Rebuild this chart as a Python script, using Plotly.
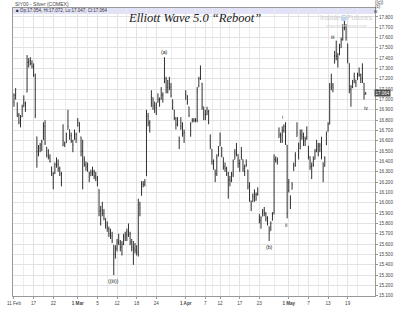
import plotly.graph_objects as go

# ---------------- data (8-hour bars, 3 per trading session) ----------------
opens = [
    16.97, 17.04, 16.97, 16.85, 16.78, 16.83, 16.93, 16.96, 17.07, 17.36,
    17.37, 17.35, 17.32, 17.24, 16.64, 16.50, 16.53, 16.56, 16.61, 16.74,
    16.54, 16.46, 16.44, 16.35, 16.28, 16.28, 16.37, 16.37, 16.33, 16.28,
    16.55, 16.59, 16.58, 16.71, 16.71, 16.65, 16.60, 16.61, 16.62, 16.74,
    16.78, 16.64, 16.50, 16.42, 16.37, 16.35, 16.30, 16.26, 16.29, 16.30,
    16.26, 16.24, 16.13, 15.92, 15.93, 15.90, 15.85, 15.78, 15.75, 15.70,
    15.68, 15.59, 15.50, 15.56, 15.62, 15.61, 15.57, 15.60, 15.67, 15.69,
    15.72, 15.70, 15.62, 15.57, 15.55, 15.54, 15.52, 15.98, 16.07, 16.18,
    16.18, 16.26, 16.84, 16.77, 16.93, 17.02, 16.94, 16.92, 16.97, 17.00,
    17.00, 17.04, 17.16, 17.20, 17.12, 17.15, 17.12, 17.00, 16.90, 16.82,
    16.76, 16.64, 16.71, 16.74, 16.67, 17.00, 17.04, 16.93, 16.70, 16.78,
    16.80, 16.80, 16.80, 17.12, 17.20, 17.16, 16.93, 16.86, 16.85, 16.88,
    16.66, 16.52, 16.40, 16.32, 16.28, 16.45, 16.55, 16.54, 16.44, 16.35,
    16.33, 16.28, 16.22, 16.22, 16.27, 16.42, 16.48, 16.47, 16.38, 16.42,
    16.42, 16.30, 16.35, 16.32, 16.16, 16.02, 16.01, 16.06, 16.08, 16.08,
    15.89, 15.83, 15.87, 15.92, 15.90, 15.85, 15.77, 15.73, 15.83, 15.89,
    16.42, 16.41, 16.63, 16.66, 16.65, 16.70, 16.74, 16.56, 16.20, 16.07,
    16.13, 16.31, 16.36, 16.64, 16.58, 16.52, 16.66, 16.64, 16.60, 16.62,
    16.55, 16.45, 16.35, 16.36, 16.42, 16.50, 16.52, 16.55, 16.56, 16.39,
    16.35, 16.56, 16.69, 16.76, 17.12, 17.14, 17.35, 17.42, 17.42, 17.43,
    17.50, 17.58, 17.70, 17.70, 17.54, 17.35, 17.10, 17.12, 17.16, 17.19,
    17.19, 17.24, 17.24, 17.20, 17.16, 17.054,
]
highs = [
    17.06, 17.11, 16.97, 16.87, 16.85, 16.95, 17.04, 16.98, 17.43, 17.40,
    17.41, 17.38, 17.35, 17.25, 16.64, 16.56, 16.58, 16.61, 16.78, 16.80,
    16.54, 16.52, 16.47, 16.35, 16.30, 16.39, 16.44, 16.42, 16.35, 16.30,
    16.76, 16.59, 16.68, 16.90, 16.71, 16.68, 16.61, 16.71, 16.68, 16.82,
    16.78, 16.64, 16.61, 16.45, 16.40, 16.39, 16.30, 16.32, 16.35, 16.32,
    16.30, 16.26, 16.13, 15.97, 16.01, 15.94, 15.85, 15.82, 15.77, 15.75,
    15.72, 15.59, 15.59, 15.65, 15.70, 15.64, 15.63, 15.70, 15.72, 15.75,
    15.80, 15.72, 15.65, 15.63, 15.61, 15.59, 16.04, 16.01, 16.21, 16.21,
    16.23, 16.90, 16.87, 16.80, 17.09, 17.02, 16.98, 16.97, 17.06, 17.02,
    17.12, 17.07, 17.41, 17.22, 17.19, 17.22, 17.16, 17.00, 16.90, 16.83,
    16.83, 16.64, 16.83, 16.78, 16.71, 17.09, 17.04, 16.93, 16.78, 16.82,
    16.82, 16.82, 17.12, 17.22, 17.33, 17.16, 16.93, 16.90, 16.93, 16.90,
    16.66, 16.52, 16.42, 16.32, 16.47, 16.55, 16.68, 16.54, 16.44, 16.39,
    16.35, 16.30, 16.26, 16.30, 16.42, 16.52, 16.58, 16.47, 16.42, 16.54,
    16.42, 16.37, 16.42, 16.32, 16.20, 16.02, 16.09, 16.13, 16.10, 16.15,
    15.89, 15.87, 15.94, 15.96, 15.91, 15.87, 15.77, 15.82, 15.91, 16.47,
    16.45, 16.44, 16.73, 16.68, 16.74, 16.76, 16.78, 16.56, 16.23, 16.07,
    16.20, 16.39, 16.49, 16.78, 16.58, 16.71, 16.71, 16.68, 16.64, 16.74,
    16.55, 16.45, 16.39, 16.45, 16.52, 16.61, 16.58, 16.58, 16.64, 16.39,
    16.45, 16.69, 16.78, 17.16, 17.25, 17.16, 17.47, 17.57, 17.45, 17.54,
    17.60, 17.73, 17.76, 17.73, 17.54, 17.35, 17.14, 17.19, 17.26, 17.19,
    17.26, 17.31, 17.25, 17.35, 17.16, 17.072,
]
lows = [
    16.93, 17.00, 16.83, 16.76, 16.73, 16.83, 16.93, 16.88, 17.07, 17.31,
    17.33, 17.30, 17.22, 16.82, 16.34, 16.45, 16.49, 16.50, 16.61, 16.56,
    16.44, 16.42, 16.39, 16.26, 16.13, 16.28, 16.34, 16.30, 16.26, 16.16,
    16.55, 16.54, 16.58, 16.71, 16.61, 16.58, 16.49, 16.61, 16.58, 16.74,
    16.68, 16.45, 16.13, 16.35, 16.31, 16.30, 16.20, 16.26, 16.26, 16.23,
    16.21, 16.16, 15.87, 15.78, 15.87, 15.83, 15.75, 15.72, 15.67, 15.65,
    15.61, 15.30, 15.46, 15.53, 15.59, 15.53, 15.49, 15.59, 15.63, 15.63,
    15.67, 15.59, 15.53, 15.40, 15.51, 15.49, 15.48, 15.87, 16.07, 16.15,
    16.16, 16.26, 16.74, 16.68, 16.93, 16.90, 16.87, 16.85, 16.97, 16.93,
    17.00, 16.97, 17.16, 17.06, 17.06, 17.09, 17.02, 16.90, 16.80, 16.71,
    16.74, 16.52, 16.71, 16.64, 16.58, 17.00, 16.95, 16.83, 16.64, 16.78,
    16.78, 16.78, 16.78, 17.12, 17.19, 16.90, 16.80, 16.80, 16.85, 16.76,
    16.52, 16.37, 16.32, 16.20, 16.26, 16.45, 16.55, 16.44, 16.32, 16.30,
    16.26, 16.04, 16.16, 16.20, 16.25, 16.42, 16.45, 16.34, 16.30, 16.42,
    16.30, 16.26, 16.35, 16.13, 16.01, 15.92, 16.01, 16.01, 16.02, 16.07,
    15.80, 15.75, 15.87, 15.87, 15.82, 15.78, 15.63, 15.73, 15.83, 15.89,
    16.39, 16.37, 16.63, 16.58, 16.58, 16.68, 16.56, 15.85, 16.10, 15.94,
    16.13, 16.31, 16.35, 16.64, 16.42, 16.52, 16.61, 16.55, 16.55, 16.61,
    16.42, 16.32, 16.23, 16.35, 16.42, 16.49, 16.45, 16.49, 16.42, 16.20,
    16.35, 16.56, 16.69, 16.76, 17.09, 17.07, 17.35, 17.38, 17.31, 17.43,
    17.50, 17.57, 17.67, 17.57, 17.35, 17.06, 16.93, 17.11, 17.16, 17.12,
    17.19, 17.22, 17.16, 17.16, 17.00, 17.047,
]
closes = [
    17.04, 17.01, 16.85, 16.78, 16.83, 16.93, 16.96, 16.97, 17.36, 17.37,
    17.35, 17.32, 17.24, 16.85, 16.50, 16.53, 16.56, 16.59, 16.74, 16.58,
    16.46, 16.44, 16.40, 16.28, 16.25, 16.37, 16.37, 16.33, 16.28, 16.20,
    16.60, 16.57, 16.66, 16.74, 16.65, 16.60, 16.56, 16.66, 16.66, 16.78,
    16.70, 16.50, 16.42, 16.37, 16.35, 16.32, 16.25, 16.29, 16.30, 16.26,
    16.24, 16.18, 15.92, 15.93, 15.90, 15.85, 15.78, 15.75, 15.70, 15.68,
    15.63, 15.50, 15.56, 15.62, 15.61, 15.57, 15.60, 15.67, 15.69, 15.72,
    15.70, 15.62, 15.57, 15.55, 15.54, 15.52, 15.98, 15.95, 16.18, 16.18,
    16.20, 16.84, 16.77, 16.78, 17.02, 16.94, 16.92, 16.94, 17.00, 16.99,
    17.04, 17.05, 17.20, 17.12, 17.15, 17.12, 17.04, 16.92, 16.82, 16.76,
    16.76, 16.60, 16.74, 16.67, 16.68, 17.05, 16.97, 16.85, 16.76, 16.80,
    16.80, 16.80, 17.08, 17.20, 17.22, 16.93, 16.86, 16.85, 16.88, 16.78,
    16.55, 16.40, 16.34, 16.28, 16.44, 16.52, 16.58, 16.46, 16.35, 16.33,
    16.28, 16.22, 16.22, 16.27, 16.40, 16.48, 16.50, 16.38, 16.38, 16.45,
    16.33, 16.34, 16.37, 16.16, 16.04, 15.98, 16.06, 16.08, 16.08, 16.08,
    15.83, 15.85, 15.92, 15.90, 15.85, 15.80, 15.72, 15.80, 15.88, 16.42,
    16.41, 16.42, 16.66, 16.65, 16.70, 16.74, 16.60, 15.90, 16.12, 16.04,
    16.18, 16.36, 16.46, 16.68, 16.50, 16.66, 16.64, 16.60, 16.62, 16.64,
    16.45, 16.35, 16.36, 16.42, 16.50, 16.52, 16.55, 16.56, 16.45, 16.30,
    16.43, 16.66, 16.76, 17.12, 17.14, 17.12, 17.42, 17.42, 17.40, 17.50,
    17.58, 17.70, 17.70, 17.60, 17.38, 17.10, 17.12, 17.16, 17.22, 17.16,
    17.24, 17.24, 17.20, 17.18, 17.05, 17.064,
]
BARS_PER_SESSION = 3
tick_labels = ["11 Feb", "17", "22", "<b>1 Mar</b>", "5", "12", "18", "24",
               "<b>1 Apr</b>", "7", "12", "17", "23", "<b>1 May</b>", "7", "13", "19"]
tick_sessions = [0, 4, 8, 13, 17, 21, 25, 29, 35, 39, 42, 46, 50, 56, 60, 64, 68]
# Elliott wave labels: (text, bar index, price)
wave_labels = [("((iii))", 61, 15.24), ("(a)", 92, 17.46), ("(b)", 156, 15.57),
               ("i", 164, 16.83), ("ii", 166.5, 15.79), ("iii", 195, 17.61),
               ("iv", 215, 16.92)]
last_price_text = "17.064"
header_text = "\u25a0 Op:17.054, Hi:17.072, Lo:17.047, Cl:17.064"

# ---------------- figure ----------------
W, H = 400, 313
PL, PR, PT, PB = 12, 386, 7, 298

def pxx(x):
    return (x - PL) / (PR - PL)

def pxy(y):
    return (PB - y) / (PB - PT)

bars = list(range(len(closes)))
tickvals = [s * BARS_PER_SESSION for s in tick_sessions]
minor_vals = [(a + b) / 2 for a, b in zip(tickvals[:-1], tickvals[1:])] + [tickvals[-1] + 6]

fig = go.Figure(go.Ohlc(
    x=bars, open=opens, high=highs, low=lows, close=closes,
    increasing=dict(line=dict(color="#1a1a1a", width=0.9)),
    decreasing=dict(line=dict(color="#1a1a1a", width=0.9)),
    tickwidth=0.22, showlegend=False, hoverinfo="skip",
))

tickfont = dict(family="Liberation Sans", size=4.6, color="#444")
fig.update_layout(
    width=W, height=H,
    margin=dict(l=PL, r=W - PR, t=PT, b=H - PB, pad=0),
    paper_bgcolor="white", plot_bgcolor="white",
    showlegend=False,
    xaxis=dict(
        range=[-0.6, 220.7], rangeslider=dict(visible=False),
        tickmode="array", tickvals=tickvals, ticktext=tick_labels,
        tickfont=tickfont, ticks="outside", ticklen=2, tickcolor="#999",
        showgrid=True, gridcolor="#e3e3e3", gridwidth=1,
        minor=dict(tickmode="array", tickvals=minor_vals, showgrid=True,
                   gridcolor="#ececec", ticks=""),
        showline=True, linecolor="#999", linewidth=1, mirror=True,
        zeroline=False, fixedrange=True,
    ),
    yaxis=dict(
        range=[15.098, 17.886], side="right",
        dtick=0.1, tick0=15.1, tickformat=".3f",
        tickfont=tickfont, ticks="outside", ticklen=2, tickcolor="#999",
        showgrid=True, gridcolor="#e3e3e3", gridwidth=1,
        showline=True, linecolor="#999", linewidth=1, mirror=True,
        zeroline=False, fixedrange=True,
    ),
)

shapes = [
    dict(type="rect", xref="paper", yref="paper", x0=0, x1=1, y0=pxy(13), y1=1,
         fillcolor="#e1e1f7", line=dict(width=0), layer="below"),
    dict(type="circle", xref="paper", yref="paper",
         x0=pxx(350.5), x1=pxx(357), y0=pxy(20.3), y1=pxy(13.8),
         fillcolor="#bfd7ee", line=dict(width=0), layer="below"),
]
fig.update_layout(shapes=shapes)

ann = []
def add_px(text, x, y, size, color="#333", xanchor="center", **kw):
    ann.append(dict(text=text, x=pxx(x), y=pxy(y), xref="paper", yref="paper",
                    xanchor=xanchor, yanchor="middle", showarrow=False,
                    font=dict(family=kw.pop("family", "Liberation Sans"), size=size,
                              color=color, **kw)))

add_px("SIY00 - Silver (COMEX)", 12, 3.2, 5, "#444", xanchor="left")
add_px(header_text, 13.5, 10, 4.5, "#333", xanchor="left")
add_px("Elliott Wave 5.0 \u201cReboot\u201d", 200, 17, 12.5, "#222",
       family="Liberation Serif", style="italic")
add_px("Inside", 339.5, 17, 7.5, "#cccccc")
add_px("Futures", 370, 17, 7.5, "#cccccc")
add_px("www.insidefutures.com", 357, 24.5, 4, "#d2d2d2")
add_px("((c))", 391, 1.5, 4.5, "#333")
add_px("(c)", 389.5, 5.5, 4.5, "#333")
add_px("w", 387, 10.5, 4.5, "#333")

for text, bi, price in wave_labels:
    ann.append(dict(text=text, x=bi, y=price, xref="x", yref="y",
                    showarrow=False, xanchor="center", yanchor="middle",
                    font=dict(family="Liberation Sans", size=5.2, color="#222")))

ann.append(dict(text=last_price_text, x=pxx(393.5), y=closes[-1], xref="paper", yref="y",
                showarrow=False, xanchor="center", yanchor="middle",
                bgcolor="#4d4d4d", borderpad=0.5,
                font=dict(family="Liberation Sans", size=4.5, color="white")))

fig.update_layout(annotations=ann)
fig.write_html("out.html")
